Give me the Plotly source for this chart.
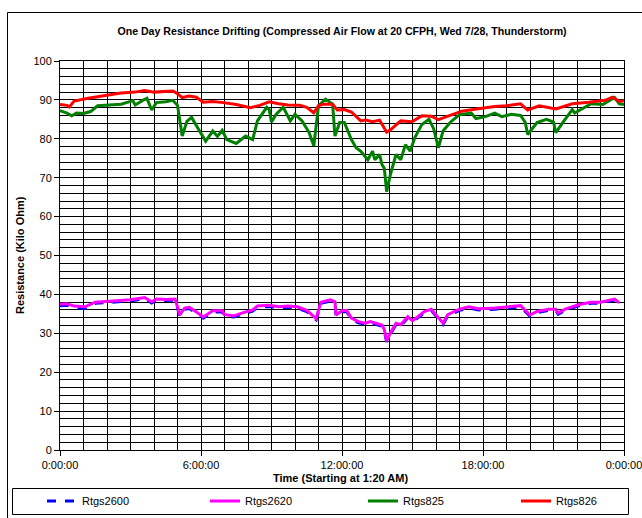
import plotly.graph_objects as go

# ---- data (hours since start, resistance in kilo-ohm) ----
red_t = [0.0, 0.3, 0.4, 0.6, 1.2, 1.8, 2.6, 3.2, 3.6, 4.0, 4.4, 4.8, 5.0, 5.2, 5.5, 5.8, 6.1, 6.5, 6.95,
         7.5, 8.1, 8.5, 8.9, 9.3, 9.7, 10.2, 10.5, 10.8, 11.0, 11.2, 11.6, 11.8, 12.1, 12.4, 12.8, 13.0,
         13.3, 13.6, 13.9, 14.1, 14.5, 14.97, 15.4, 15.8, 16.1, 16.7, 17.1, 17.8, 18.5, 19.0, 19.6, 19.9,
         20.4, 21.1, 21.8, 22.5, 23.2, 23.5, 23.8, 24.0]
red_v = [88.8, 88.6, 88.2, 89.7, 90.4, 91.0, 91.8, 92.0, 92.4, 92.0, 92.2, 92.3, 91.6, 90.6, 91.0, 90.7, 89.4,
         89.6, 89.3, 88.8, 88.0, 88.6, 89.5, 89.0, 88.7, 88.6, 88.1, 86.7, 88.5, 88.9, 88.9, 87.4, 87.5, 86.9,
         84.6, 84.8, 84.4, 84.8, 81.7, 82.5, 84.6, 84.4, 85.9, 85.8, 84.9, 86.2, 87.1, 87.7, 88.3, 88.5, 89.0,
         87.4, 88.5, 87.7, 89.0, 89.4, 89.9, 90.7, 89.6, 89.8]

green_t = [0.0, 0.3, 0.5, 0.7, 1.0, 1.3, 1.6, 2.0, 2.6, 3.1, 3.2, 3.5, 3.7, 3.9, 4.1, 4.5, 4.8, 5.0, 5.2, 5.4,
           5.6, 5.9, 6.2, 6.5, 6.7, 6.9, 7.1, 7.5, 7.9, 8.2, 8.3, 8.4, 8.8, 8.9, 9.0, 9.2, 9.5, 9.8, 10.0, 10.3,
           10.6, 10.8, 11.0, 11.3, 11.6, 11.7, 11.9, 12.1, 12.4, 12.6, 12.8, 13.1, 13.3, 13.4, 13.6, 13.7, 13.8,
           13.9, 14.05, 14.3, 14.5, 14.7, 14.9, 15.1, 15.4, 15.7, 15.9, 16.1, 16.3, 16.6, 17.0, 17.5, 17.7, 18.1,
           18.5, 18.8, 19.2, 19.6, 19.8, 19.9, 20.3, 20.7, 21.0, 21.1, 21.4, 21.8, 21.9, 22.3, 22.6, 23.1, 23.4,
           23.6, 23.8, 24.0]
green_v = [87.2, 86.6, 85.9, 86.6, 86.5, 87.0, 88.5, 88.6, 88.9, 89.8, 88.7, 89.8, 90.4, 87.4, 89.3, 89.5, 89.9,
           88.6, 80.7, 84.5, 85.5, 82.4, 79.4, 82.0, 80.6, 82.2, 79.8, 78.8, 80.7, 79.8, 82.0, 84.6, 88.1, 87.6,
           84.3, 86.3, 88.1, 84.6, 86.3, 84.6, 81.6, 78.2, 88.5, 90.2, 88.9, 80.7, 84.2, 84.2, 79.8, 77.7, 76.8,
           74.6, 76.8, 74.6, 76.0, 73.4, 72.4, 66.4, 70.6, 76.0, 74.6, 78.5, 76.8, 80.3, 83.7, 85.0, 82.6, 77.7,
           82.0, 84.2, 86.2, 86.6, 85.2, 85.7, 86.6, 85.7, 86.3, 86.0, 84.2, 81.1, 84.2, 85.0, 84.3, 81.6, 84.2,
           87.5, 86.6, 88.1, 89.0, 88.8, 89.9, 90.6, 89.0, 88.8]

low_t = [0.0, 0.3, 0.6, 1.06, 1.5, 2.0, 2.6, 3.0, 3.6, 3.9, 4.1, 4.5, 4.9, 5.1, 5.3, 5.5, 5.7, 6.1, 6.5, 6.9,
         7.0, 7.4, 7.8, 8.2, 8.4, 8.9, 9.3, 9.7, 10.1, 10.5, 10.9, 11.1, 11.5, 11.7, 11.75, 12.0, 12.2, 12.4,
         12.7, 13.0, 13.2, 13.5, 13.7, 13.8, 13.9, 14.05, 14.3, 14.5, 14.8, 15.0, 15.5, 15.8, 16.0, 16.3, 16.5,
         17.0, 17.4, 17.8, 18.5, 19.0, 19.6, 20.0, 20.3, 20.8, 21.1, 21.2, 21.5, 22.1, 22.6, 23.0, 23.3, 23.6,
         23.8]
rtgs2620_v = [37.5, 37.6, 37.0, 36.8, 38.0, 38.2, 38.4, 38.6, 39.2, 38.1, 38.8, 38.7, 38.8, 34.7, 36.5, 36.7,
              35.9, 34.2, 35.8, 35.8, 34.8, 34.5, 35.3, 36.0, 37.0, 37.2, 36.8, 37.0, 36.8, 35.9, 33.8, 38.0,
              38.6, 38.1, 34.7, 35.8, 35.9, 33.9, 33.0, 32.6, 33.0, 32.4, 32.1, 31.0, 28.0, 30.0, 32.6, 32.2,
              34.3, 33.2, 35.6, 36.2, 34.8, 32.6, 34.8, 36.2, 36.8, 36.3, 36.5, 36.8, 37.1, 34.7, 35.6, 36.2,
              36.2, 35.2, 36.2, 37.4, 38.0, 38.0, 38.5, 38.8, 37.8]
rtgs2600_v = [37.1, 37.2, 36.6, 36.4, 37.7, 37.9, 38.1, 38.3, 38.9, 37.8, 38.5, 38.4, 38.5, 34.4, 36.2, 36.4,
              35.6, 33.9, 35.5, 35.5, 34.5, 34.2, 35.0, 35.7, 36.7, 36.9, 36.5, 36.7, 36.5, 35.6, 33.5, 37.7,
              38.3, 37.8, 34.4, 35.5, 35.6, 33.6, 32.7, 32.3, 32.7, 32.1, 31.8, 30.7, 27.8, 29.7, 32.3, 31.9,
              34.0, 32.9, 35.3, 35.9, 34.5, 32.3, 34.5, 35.9, 36.5, 36.0, 36.2, 36.5, 36.8, 34.4, 35.3, 35.9,
              35.9, 34.9, 35.9, 37.1, 37.7, 37.7, 38.2, 38.5, 37.5]

x_tickvals = [0, 6, 12, 18, 24]
x_ticktext = ["0:00:00", "6:00:00", "12:00:00", "18:00:00", "0:00:00"]

title_text = "One Day Resistance Drifting (Compressed Air Flow at 20 CFPH, Wed 7/28, Thunderstorm)"
x_title = "Time (Starting at 1:20 AM)"
y_title = "Resistance (Kilo Ohm)"

FONT = "Liberation Sans, Arial, sans-serif"

fig = go.Figure()
fig.add_trace(go.Scatter(x=low_t, y=rtgs2600_v, mode="lines", name="Rtgs2600", legend="legend",
                         line=dict(color="#0000ff", width=3, dash="dash")))
fig.add_trace(go.Scatter(x=low_t, y=rtgs2620_v, mode="lines", name="Rtgs2620", legend="legend2",
                         line=dict(color="#ff00ff", width=3)))
fig.add_trace(go.Scatter(x=green_t, y=green_v, mode="lines", name="Rtgs825", legend="legend3",
                         line=dict(color="#008000", width=3)))
fig.add_trace(go.Scatter(x=red_t, y=red_v, mode="lines", name="Rtgs826", legend="legend4",
                         line=dict(color="#ff0000", width=3)))

L, R, T, B = 60, 18, 61, 68
W, H = 642, 518
pw, ph = W - L - R, H - T - B


def px(xp):
    return (xp - L) / pw


def py(yp):
    return (H - B - yp) / ph


def leg(text_x):
    return dict(orientation="h", x=px(text_x - 40), y=py(501), xanchor="left", yanchor="middle",
                font=dict(size=11, family=FONT, color="black"), bgcolor="rgba(0,0,0,0)", borderwidth=0)


fig.update_layout(
    width=W, height=H,
    margin=dict(l=L, r=R, t=T, b=B, autoexpand=False),
    paper_bgcolor="white", plot_bgcolor="white",
    font=dict(family=FONT, size=11, color="black"),
    title=dict(text="<b>" + title_text + "</b>", x=0.5, xref="paper", y=1 - 31 / H, yref="container",
               xanchor="center", yanchor="middle", font=dict(size=10.6, family=FONT, color="black")),
    showlegend=True,
    legend=leg(82), legend2=leg(245), legend3=leg(403), legend4=leg(556),
    xaxis=dict(range=[0, 24], tickvals=x_tickvals, ticktext=x_ticktext, showgrid=True,
               gridcolor="black", gridwidth=1, zeroline=False, showline=True, linecolor="black",
               linewidth=1, mirror=True, ticks="outside", ticklen=5, tickcolor="black",
               minor=dict(dtick=1, tick0=0, showgrid=True, gridcolor="black", gridwidth=1),
               tickfont=dict(size=11, family=FONT), automargin=False, ticklabeloverflow="allow"),
    yaxis=dict(range=[0, 100], dtick=10, tick0=0, showgrid=True, gridcolor="black", gridwidth=1,
               zeroline=False, showline=True, linecolor="black", linewidth=1, mirror=True,
               ticks="outside", ticklen=5, tickcolor="black",
               minor=dict(dtick=2, tick0=0, showgrid=True, gridcolor="black", gridwidth=1),
               tickfont=dict(size=11, family=FONT), automargin=False, ticklabeloverflow="allow"),
    annotations=[
        dict(text="<b>" + x_title + "</b>", xref="paper", yref="paper", x=px(340), y=py(478),
             xanchor="center", yanchor="middle", showarrow=False, font=dict(size=11, family=FONT)),
        dict(text="<b>" + y_title + "</b>", xref="paper", yref="paper", x=px(20), y=py(255),
             xanchor="center", yanchor="middle", textangle=-90, showarrow=False,
             font=dict(size=11, family=FONT)),
    ],
    shapes=[
        dict(type="rect", xref="paper", yref="paper", x0=px(7.5), x1=px(660), y0=py(540), y1=py(12.5),
             line=dict(color="black", width=1), fillcolor="rgba(0,0,0,0)", layer="above"),
        dict(type="rect", xref="paper", yref="paper", x0=px(12.5), x1=px(628.5), y0=py(514.5), y1=py(488.5),
             line=dict(color="black", width=1), fillcolor="rgba(0,0,0,0)", layer="above"),
    ],
)

fig.write_html("out.html", config={"displayModeBar": False},
               post_script="document.body.style.margin='0px';")
